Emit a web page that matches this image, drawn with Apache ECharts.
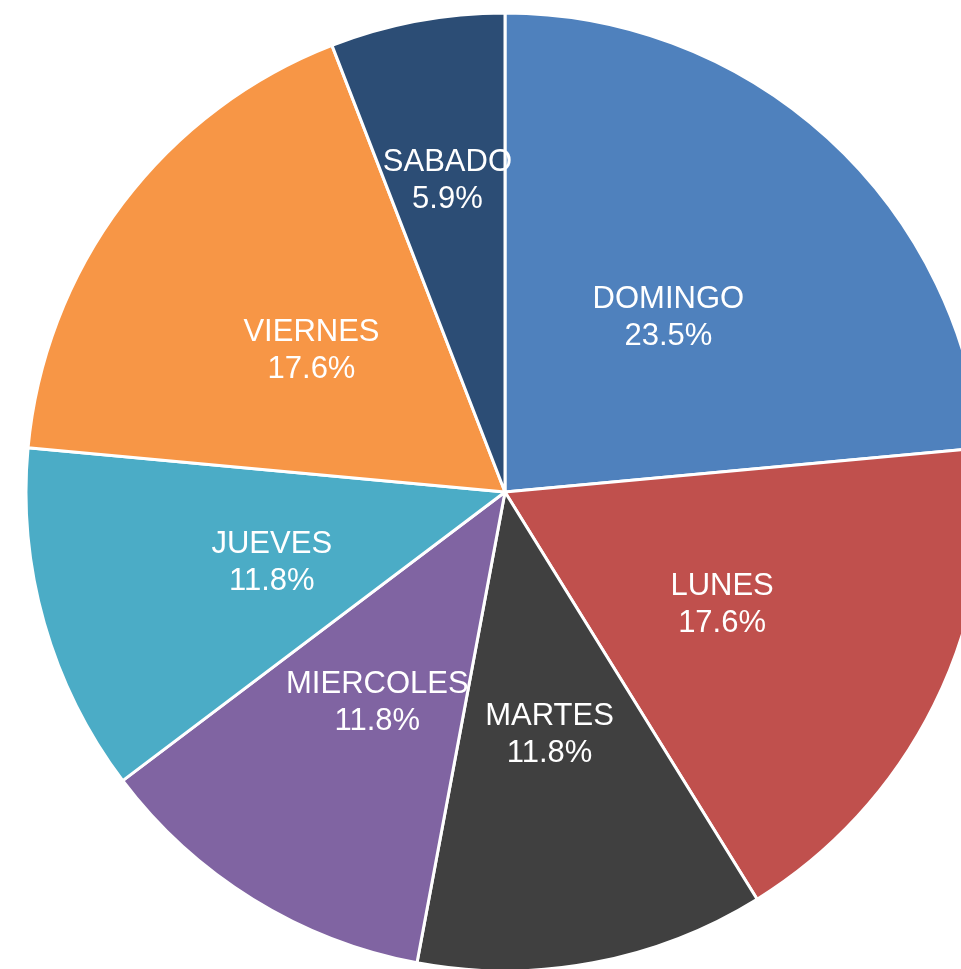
<!DOCTYPE html>
<html>
<head>
<meta charset="utf-8">
<script src="https://cdn.jsdelivr.net/npm/echarts@6/dist/echarts.min.js"></script>
<style>
  html, body { margin: 0; padding: 0; background: #fff; }
  #chart { width: 961px; height: 969px; }
</style>
</head>
<body>
<div id="chart"></div>
<script>
const days = ['DOMINGO', 'LUNES', 'MARTES', 'MIERCOLES', 'JUEVES', 'VIERNES', 'SABADO']
const counts = [4, 3, 2, 2, 2, 3, 1]
const colors = ['#4F81BD', '#C0504D', '#404040', '#8064A2', '#4BACC6', '#F79646', '#2C4D75']

const total = counts.reduce((a, b) => a + b, 0)

// the small slice's label is pushed outward, as in the original
const pushOut = { SABADO: [-13, -73] }

const chart = echarts.init(document.getElementById('chart'))
chart.setOption({
  animation: false,
  series: [{
    type: 'pie',
    center: [505, 492],
    radius: [0, 479],
    startAngle: 90,
    clockwise: true,
    data: days.map((name, i) => ({
      name,
      value: counts[i],
      itemStyle: { color: colors[i] },
      label: pushOut[name] ? { offset: pushOut[name] } : undefined
    })),
    itemStyle: { borderColor: '#fff', borderWidth: 3 },
    label: {
      show: true,
      position: 'inside',
      color: '#fff',
      fontFamily: 'Liberation Sans, Arial, sans-serif',
      fontSize: 31,
      lineHeight: 37,
      offset: [0, 5],
      formatter: (p) => `${p.name}\n${(p.value / total * 100).toFixed(1)}%`
    },
    labelLine: { show: false },
    emphasis: { disabled: true }
  }]
})
</script>
</body>
</html>
